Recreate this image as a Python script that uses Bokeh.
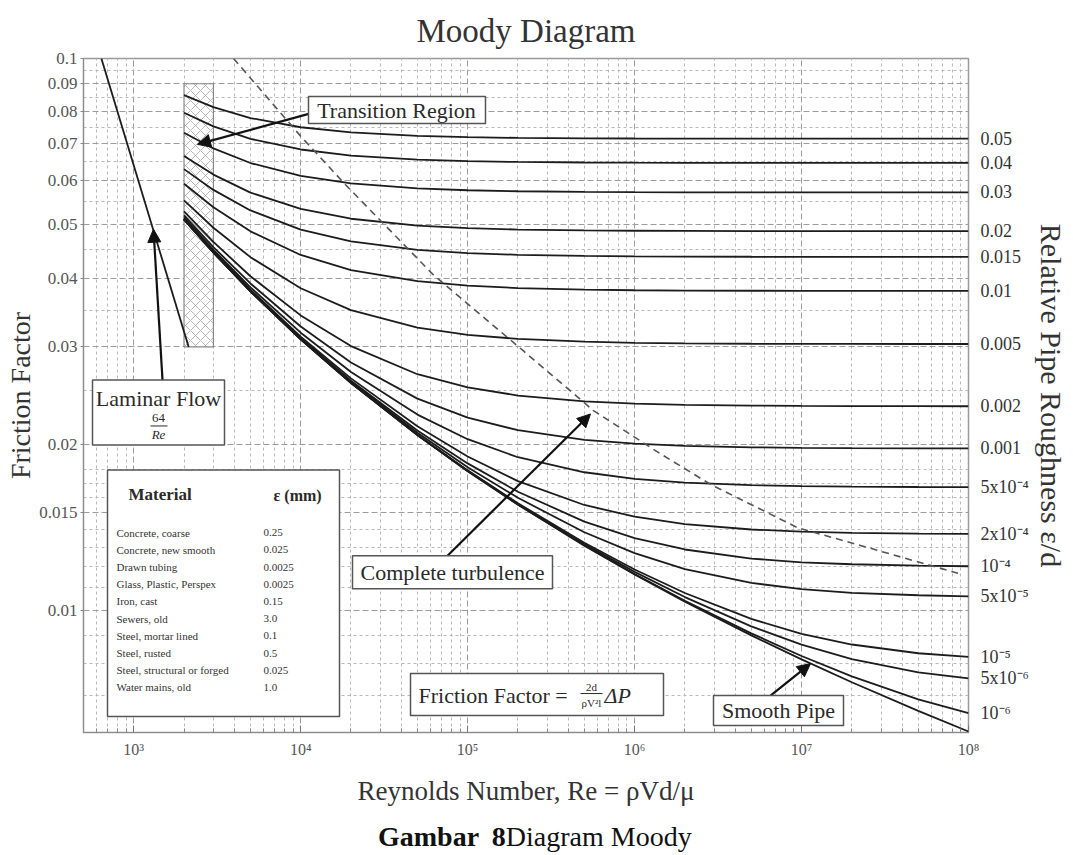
import math
from bokeh.plotting import figure
from bokeh.layouts import column
from bokeh.models import FixedTicker, LogAxis, Label, Arrow, NormalHead, BoxAnnotation, Range1d
from bokeh.embed import file_html
from bokeh.resources import INLINE

# ---------------- data ----------------
x_limits = [500, 1e8]
y_limits = [0.006, 0.1]

reynolds = [2000, 3000, 5000, 1e4, 2e4, 5e4, 1e5, 2e5, 5e5, 1e6, 2e6, 5e6, 1e7, 2e7, 5e7, 1e8]

f_0_05 = [0.08584, 0.08162, 0.07799, 0.07505, 0.07344, 0.07238, 0.07200, 0.07179, 0.07166, 0.07161, 0.07158, 0.07156, 0.07156, 0.07155, 0.07155, 0.07155]
f_0_04 = [0.07972, 0.07532, 0.07152, 0.06840, 0.06669, 0.06556, 0.06515, 0.06493, 0.06478, 0.06473, 0.06470, 0.06468, 0.06468, 0.06467, 0.06467, 0.06467]
f_0_03 = [0.07334, 0.06870, 0.06464, 0.06127, 0.05940, 0.05816, 0.05770, 0.05746, 0.05730, 0.05724, 0.05721, 0.05719, 0.05718, 0.05718, 0.05717, 0.05717]
f_0_02 = [0.06658, 0.06159, 0.05714, 0.05336, 0.05123, 0.04979, 0.04926, 0.04897, 0.04878, 0.04872, 0.04868, 0.04865, 0.04865, 0.04864, 0.04864, 0.04864]
f_0_015 = [0.06302, 0.05778, 0.05304, 0.04895, 0.04660, 0.04499, 0.04439, 0.04407, 0.04386, 0.04378, 0.04374, 0.04371, 0.04370, 0.04370, 0.04369, 0.04369]
f_0_01 = [0.05928, 0.05373, 0.04860, 0.04404, 0.04135, 0.03947, 0.03875, 0.03836, 0.03811, 0.03801, 0.03796, 0.03793, 0.03792, 0.03791, 0.03791, 0.03791]
f_0_005 = [0.05533, 0.04934, 0.04364, 0.03833, 0.03499, 0.03253, 0.03156, 0.03102, 0.03066, 0.03052, 0.03045, 0.03040, 0.03039, 0.03038, 0.03037, 0.03037]
f_0_002 = [0.05283, 0.04650, 0.04030, 0.03422, 0.03011, 0.02677, 0.02533, 0.02449, 0.02390, 0.02368, 0.02356, 0.02348, 0.02345, 0.02344, 0.02343, 0.02342]
f_0_001 = [0.05197, 0.04551, 0.03910, 0.03267, 0.02812, 0.02418, 0.02234, 0.02119, 0.02036, 0.02003, 0.01985, 0.01973, 0.01969, 0.01966, 0.01965, 0.01964]
f_5e_4 = [0.05153, 0.04500, 0.03848, 0.03184, 0.02702, 0.02262, 0.02041, 0.01893, 0.01778, 0.01730, 0.01703, 0.01685, 0.01678, 0.01674, 0.01672, 0.01671]
f_2e_4 = [0.05127, 0.04470, 0.03810, 0.03132, 0.02631, 0.02155, 0.01899, 0.01713, 0.01551, 0.01477, 0.01432, 0.01400, 0.01388, 0.01381, 0.01376, 0.01375]
f_1e_4 = [0.05118, 0.04459, 0.03797, 0.03115, 0.02606, 0.02117, 0.01845, 0.01639, 0.01447, 0.01351, 0.01288, 0.01240, 0.01221, 0.01211, 0.01204, 0.01201]
f_5e_5 = [0.05114, 0.04454, 0.03791, 0.03106, 0.02594, 0.02097, 0.01816, 0.01598, 0.01384, 0.01269, 0.01187, 0.01120, 0.01092, 0.01075, 0.01064, 0.01059]
f_1e_5 = [0.05110, 0.04450, 0.03786, 0.03099, 0.02584, 0.02080, 0.01792, 0.01562, 0.01325, 0.01185, 0.01074, 0.009638, 0.009059, 0.008663, 0.008352, 0.008224]
f_5e_6 = [0.05110, 0.04450, 0.03785, 0.03098, 0.02583, 0.02078, 0.01789, 0.01558, 0.01317, 0.01173, 0.01056, 0.009344, 0.008657, 0.008150, 0.007713, 0.007519]
f_1e_6 = [0.05109, 0.04449, 0.03784, 0.03098, 0.02582, 0.02076, 0.01787, 0.01554, 0.01311, 0.01163, 0.01040, 0.009074, 0.008258, 0.007583, 0.006889, 0.006506]
f_smooth = [0.05109, 0.04449, 0.03784, 0.03097, 0.02581, 0.02076, 0.01786, 0.01553, 0.01309, 0.01160, 0.01036, 0.009001, 0.008142, 0.007401, 0.006567, 0.006026]

roughness_curves = [f_0_05, f_0_04, f_0_03, f_0_02, f_0_015, f_0_01, f_0_005, f_0_002, f_0_001,
                    f_5e_4, f_2e_4, f_1e_4, f_5e_5, f_1e_5, f_5e_6, f_1e_6, f_smooth]
roughness_labels = ["0.05", "0.04", "0.03", "0.02", "0.015", "0.01", "0.005", "0.002", "0.001",
                    "5x10\u207b\u2074", "2x10\u207b\u2074", "10\u207b\u2074", "5x10\u207b\u2075",
                    "10\u207b\u2075", "5x10\u207b\u2076", "10\u207b\u2076", None]

laminar_re = [640, 2133]
laminar_f = [0.1, 0.03]

transition_re = [2000, 3000]
transition_f = [0.03, 0.09]

turbulence_re = [3960, 1.0e4, 1.85e4, 6.2e4, 2.16e5, 5.67e5, 1.43e6, 2.85e6, 9.5e6, 2.25e7, 9.2e7]
turbulence_f = [0.1, 0.0723, 0.0591, 0.0406, 0.0295, 0.0230, 0.0192, 0.0169, 0.0141, 0.0131, 0.0116]

x_major = [1e3, 1e4, 1e5, 1e6, 1e7, 1e8]
x_major_labels = ["10\u00b3", "10\u2074", "10\u2075", "10\u2076", "10\u2077", "10\u2078"]
x_minor = [m * 10 ** k for k in range(2, 8) for m in range(2, 10)]

y_major = [0.01, 0.015, 0.02, 0.03, 0.04, 0.05, 0.06, 0.07, 0.08, 0.09, 0.1]
y_major_labels = ["0.01", "0.015", "0.02", "0.03", "0.04", "0.05", "0.06", "0.07", "0.08", "0.09", "0.1"]
y_minor = [0.007, 0.008, 0.009, 0.011, 0.012, 0.013, 0.014, 0.016, 0.017, 0.018, 0.025,
           0.035, 0.045, 0.055, 0.065, 0.075, 0.085, 0.095]

materials = ["Concrete, coarse", "Concrete, new smooth", "Drawn tubing", "Glass, Plastic, Perspex",
             "Iron, cast", "Sewers, old", "Steel, mortar lined", "Steel, rusted",
             "Steel, structural or forged", "Water mains, old"]
epsilon_mm = ["0.25", "0.025", "0.0025", "0.0025", "0.15", "3.0", "0.1", "0.5", "0.025", "1.0"]

# ---------------- layout helpers ----------------
FL, FR, FT, FB = 83, 968, 57, 732
W, H_MAIN, H_CAP = 1073, 812, 43
SERIF = "Liberation Serif"


def dx(px):
    return 10 ** (math.log10(x_limits[0]) + (px - FL) / (FR - FL) * math.log10(x_limits[1] / x_limits[0]))


def dy(py):
    return 10 ** (math.log10(y_limits[1]) - (py - FT) / (FB - FT) * math.log10(y_limits[1] / y_limits[0]))


p = figure(width=W, height=H_MAIN, x_axis_type="log", y_axis_type="log",
           x_range=Range1d(*x_limits), y_range=Range1d(*y_limits),
           output_backend="svg", toolbar_location=None,
           min_border_left=FL, min_border_right=W - FR, min_border_top=FT, min_border_bottom=H_MAIN - FB,
           title="Moody Diagram")
p.background_fill_color = "white"
p.border_fill_color = "white"
p.outline_line_color = "#9a9a9a"
p.outline_line_width = 1.5

p.title.align = "center"
p.title.text_font = SERIF
p.title.text_font_size = "33px"
p.title.text_font_style = "normal"
p.title.text_color = "#333333"
p.title.standoff = 20

# bottom axis
xax = p.xaxis[0]
xax.ticker = FixedTicker(ticks=x_major, minor_ticks=x_minor)
xax.major_label_overrides = {t: s for t, s in zip(x_major, x_major_labels)}
xax.major_label_text_font = SERIF
xax.major_label_text_font_size = "16px"
xax.major_label_text_color = "#555555"
xax.axis_line_color = "#8a8a8a"
xax.major_tick_in = 7
xax.major_tick_out = 0
xax.minor_tick_in = 4
xax.minor_tick_out = 0
xax.major_tick_line_color = "#777777"
xax.minor_tick_line_color = "#888888"
xax.major_label_standoff = 8
xax.axis_label = "Reynolds Number, Re = \u03c1Vd/\u03bc"
xax.axis_label_text_font = SERIF
xax.axis_label_text_font_size = "27px"
xax.axis_label_text_font_style = "normal"
xax.axis_label_text_color = "#333333"
xax.axis_label_standoff = 15

# left axis
yax = p.yaxis[0]
yax.ticker = FixedTicker(ticks=y_major, minor_ticks=y_minor)
yax.major_label_overrides = {t: s for t, s in zip(y_major, y_major_labels)}
yax.major_label_text_font = SERIF
yax.major_label_text_font_size = "17px"
yax.major_label_text_color = "#555555"
yax.axis_line_color = "#8a8a8a"
yax.major_tick_in = 0
yax.major_tick_out = 3
yax.minor_tick_line_color = None
yax.major_tick_line_color = "#888888"
yax.major_label_standoff = 2
yax.axis_label = "Friction Factor"
yax.axis_label_text_font = SERIF
yax.axis_label_text_font_size = "28px"
yax.axis_label_text_font_style = "normal"
yax.axis_label_text_color = "#333333"
yax.axis_label_standoff = 0

for g in (p.xgrid[0], p.ygrid[0]):
    g.grid_line_color = "#9c9c9c"
    g.grid_line_dash = "6 3"
    g.grid_line_width = 1
    g.minor_grid_line_color = "#b8b8b8"
    g.minor_grid_line_dash = "3 3"
    g.minor_grid_line_width = 1

# right axis: relative roughness labels at curve ends
ends = [c[-1] for c, lab in zip(roughness_curves, roughness_labels) if lab is not None]
end_labels = [lab for lab in roughness_labels if lab is not None]
rax = LogAxis(ticker=FixedTicker(ticks=ends, minor_ticks=[]))
rax.major_label_overrides = {t: s for t, s in zip(ends, end_labels)}
rax.major_label_text_font = SERIF
rax.major_label_text_font_size = "18px"
rax.major_label_text_color = "#333333"
rax.axis_line_color = None
rax.major_tick_line_color = None
rax.minor_tick_line_color = None
rax.major_label_standoff = 6
rax.axis_label = "Relative Pipe Roughness \u03b5/d"
rax.axis_label_text_font = SERIF
rax.axis_label_text_font_size = "30px"
rax.axis_label_text_font_style = "normal"
rax.axis_label_text_color = "#333333"
rax.axis_label_standoff = 3
p.add_layout(rax, "right")

# ---------------- marks ----------------
p.quad(left=[transition_re[0]], right=[transition_re[1]], bottom=[transition_f[0]], top=[transition_f[1]],
       fill_color="white", line_color="#888888", line_width=1.2,
       hatch_pattern="x", hatch_color="#9a9a9a", hatch_scale=10, hatch_weight=0.9, hatch_alpha=0.8)

for curve in roughness_curves:
    p.line(reynolds, curve, line_color="#1c1c1c", line_width=1.8)

p.line(laminar_re, laminar_f, line_color="#1c1c1c", line_width=1.8)
p.line(turbulence_re, turbulence_f, line_color="#555555", line_width=1.6, line_dash="7 5")


# ---------------- annotations inside the frame ----------------
def box(x0, y0, x1, y1):
    p.add_layout(BoxAnnotation(left=dx(x0), right=dx(x1), top=dy(y0), bottom=dy(y1),
                               fill_color="white", fill_alpha=1.0, line_color="#555555",
                               line_width=1.5, line_alpha=1.0))


def txt(px, py, s, size=22, style="normal", align="left", color="#2a2a2a"):
    p.add_layout(Label(x=dx(px), y=dy(py), text=s, text_font=SERIF, text_font_size=f"{size}px",
                       text_font_style=style, text_align=align, text_baseline="middle",
                       text_color=color))


def seg(x0, y0, x1, y1, width=1.0, color="#2a2a2a"):
    p.add_layout(Arrow(start=None, end=None, x_start=dx(x0), y_start=dy(y0), x_end=dx(x1), y_end=dy(y1),
                       line_width=width, line_color=color))


def arrow(x0, y0, x1, y1):
    p.add_layout(Arrow(end=NormalHead(size=13, fill_color="#111111", line_color="#111111"),
                       x_start=dx(x0), y_start=dy(y0), x_end=dx(x1), y_end=dy(y1),
                       line_width=2.2, line_color="#111111"))


arrow(310, 112, 197, 143)
arrow(162, 379, 153, 228)
arrow(447, 555, 590, 413)
arrow(770, 695, 810, 663)

# Transition Region
box(308, 95, 485, 122)
txt(396, 109, "Transition Region", align="center")

# Laminar Flow
box(92, 379, 224, 444)
txt(158, 398, "Laminar Flow", align="center")
txt(158, 417, "64", size=13, align="center")
seg(150, 425, 167, 425)
txt(158, 434, "Re", size=13, style="italic", align="center")

# Material table
box(107, 469, 339, 716)
txt(128, 494, "Material", size=17, style="bold")
txt(273, 495, "\u03b5 (mm)", size=16, style="bold")
for i, (m, e) in enumerate(zip(materials, epsilon_mm)):
    yrow = 532 + i * 17.2
    txt(116, yrow, m, size=11, color="#333333")
    txt(263, yrow, e, size=11, color="#333333")

# Complete turbulence
box(352, 555, 552, 588)
txt(452, 572, "Complete turbulence", align="center")

# Friction factor definition
box(410, 673, 663, 715)
txt(418, 695, "Friction Factor =", size=22)
txt(591, 686, "2d", size=11, align="center")
seg(580, 693, 602, 693)
txt(591, 702, "\u03c1V\u00b2l", size=11, align="center")
txt(604, 695, "\u0394P", size=22, style="italic")

# Smooth Pipe
box(713, 695, 843, 725)
txt(778, 710, "Smooth Pipe", align="center")

# ---------------- caption strip below the chart ----------------
cap = figure(width=W, height=H_CAP, x_range=Range1d(0, W), y_range=Range1d(0, H_CAP),
             output_backend="svg", toolbar_location=None, min_border=0)
cap.axis.visible = False
cap.grid.visible = False
cap.outline_line_color = None
cap.background_fill_color = "white"
cap.border_fill_color = "white"
for xpos, s, st in [(357, "Gambar", "bold"), (495, "8", "bold"), (512, "Diagram Moody", "normal")]:
    cap.add_layout(Label(x=xpos, y=H_CAP - (836 - H_MAIN), text=s, text_font=SERIF, text_font_size="28px",
                         text_font_style=st, text_baseline="middle", text_color="#111111"))

layout = column(p, cap, spacing=0)
open("out.html", "w").write(file_html(layout, INLINE))
